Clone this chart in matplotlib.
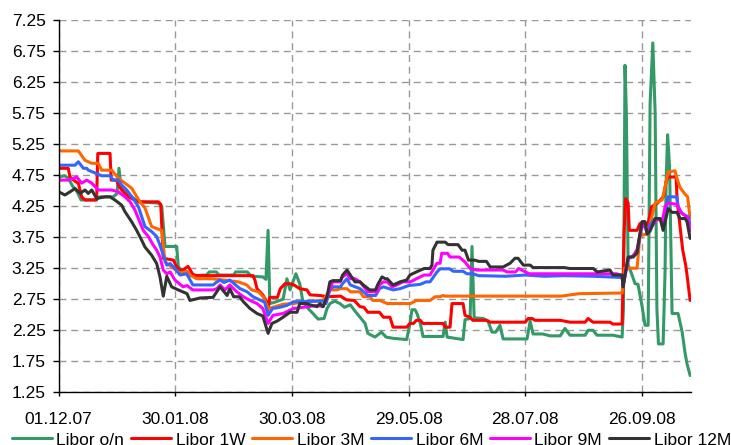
import matplotlib
matplotlib.use("Agg")
import matplotlib.pyplot as plt

plt.rcParams['font.family'] = ['Liberation Sans', 'DejaVu Sans']

# ---------------- data (days counted from 01.12.07) ----------------
tick_days = [0, 60, 120, 180, 240, 300]
tick_labels = ['01.12.07', '30.01.08', '30.03.08', '29.05.08', '28.07.08', '26.09.08']
y_ticks = [1.25, 1.75, 2.25, 2.75, 3.25, 3.75, 4.25, 4.75, 5.25, 5.75, 6.25, 6.75, 7.25]

series_names = ['Libor o/n', 'Libor 1W', 'Libor 3M', 'Libor 6M', 'Libor 9M', 'Libor 12M']
series_colors = ['#339966', '#FF0000', '#FF6600', '#3366FF', '#FF00FF', '#333333']

on_days = [0, 3, 5, 7, 9.5, 11.5, 19, 21, 28, 30, 31, 32, 35, 37.5, 41, 51.2, 53, 54.7, 60.7, 61.5,
           64, 68, 76, 77.5, 81, 82.5, 90, 91, 97, 99, 105, 106.6, 107.7, 108.6, 111, 115.4, 117.4, 119, 122, 124,
           125.5, 127.7, 130.8, 133.4, 136.5, 138, 139.5, 142, 144.7, 147, 150, 152.4, 155, 157.6, 159, 162.7, 166, 168.4, 172, 179,
           180.7, 181.7, 183.3, 184.3, 186, 187.4, 197.7, 198.8, 199.8, 208, 209, 211.6, 212.6, 213.7, 218.3, 220.8, 222.9, 224.8, 227, 228.6,
           240.9, 242.5, 244, 249, 252.7, 258, 260.4, 263, 270.8, 272.3, 274.8, 276.9, 285.1, 289.8, 290.5, 291.3, 292, 292.9, 294, 296.5,
           298, 300.1, 301.6, 303.2, 304.2, 305.6, 306.8, 307.7, 308.5, 310.9, 311.9, 312.4, 313.2, 314.2, 315.5, 318.6, 320.7, 322.2, 323.2, 324.8]
on_vals = [4.72, 4.74, 4.70, 4.58, 4.48, 4.35, 4.35, 4.40, 4.40, 4.45, 4.86, 4.55, 4.45, 4.40, 4.32, 4.30, 4.25, 3.60, 3.60, 3.28,
           3.18, 3.13, 3.14, 3.19, 3.19, 3.14, 3.14, 3.19, 3.19, 3.12, 3.11, 3.07, 3.86, 2.68, 2.70, 2.75, 3.08, 2.90, 3.16, 3.00,
           2.73, 2.62, 2.52, 2.43, 2.44, 2.60, 2.68, 2.72, 2.68, 2.62, 2.66, 2.56, 2.46, 2.36, 2.20, 2.14, 2.22, 2.14, 2.12, 2.10,
           2.36, 2.58, 2.58, 2.52, 2.36, 2.15, 2.15, 2.38, 2.14, 2.10, 2.42, 2.44, 3.60, 2.45, 2.44, 2.40, 2.22, 2.22, 2.33, 2.11,
           2.11, 2.40, 2.19, 2.19, 2.16, 2.16, 2.28, 2.17, 2.17, 2.25, 2.25, 2.17, 2.17, 2.14, 2.60, 6.52, 5.75, 3.30, 3.22, 3.00,
           2.99, 2.63, 2.33, 2.33, 5.90, 6.88, 5.75, 2.60, 2.03, 2.03, 3.20, 4.60, 5.40, 4.90, 2.52, 2.52, 2.22, 1.88, 1.71, 1.52]

w1_days = [0, 4.9, 5.8, 8.5, 10.1, 11.8, 13.5, 19.5, 20.1, 26.4, 27, 29.8, 30.7, 32.4, 35.8, 41, 51.2, 52.5, 53.8, 59,
           60.7, 62.4, 64, 66.5, 69, 71, 100, 101, 102, 105, 106.6, 107.7, 108.5, 112.5, 114, 116.4, 119, 121, 124, 127.7,
           129.3, 134.4, 138, 145, 148, 152, 155, 157, 159, 165, 167, 170.4, 172, 179, 180.7, 182.5, 184, 186, 187.4, 197.7,
           198.8, 201.3, 202.3, 208, 209, 211.6, 213, 220, 221.9, 240, 241.5, 243.5, 245, 258, 263, 270.8, 272.3, 274.8, 283.6, 285,
           289.8, 290.8, 291.6, 292.9, 293.5, 297.5, 299, 301, 303, 305, 308, 311, 312.5, 313.5, 317.6, 318.1, 319.6, 321, 322.5, 323.2,
           324.8]
w1_vals = [4.86, 4.86, 4.72, 4.65, 4.62, 4.40, 4.35, 4.35, 5.10, 5.10, 4.67, 4.67, 4.59, 4.51, 4.40, 4.32, 4.32, 4.28, 3.41, 3.38,
           3.27, 3.22, 3.22, 3.28, 3.15, 3.13, 3.13, 3.05, 2.92, 2.82, 2.73, 2.58, 2.78, 2.78, 2.92, 3.00, 3.00, 2.98, 2.92, 2.90,
           2.82, 2.81, 2.79, 2.80, 2.74, 2.73, 2.63, 2.62, 2.54, 2.54, 2.46, 2.46, 2.30, 2.30, 2.36, 2.36, 2.41, 2.41, 2.36, 2.36,
           2.30, 2.30, 2.68, 2.68, 2.49, 2.46, 2.41, 2.41, 2.38, 2.38, 2.44, 2.44, 2.41, 2.41, 2.38, 2.38, 2.44, 2.38, 2.38, 2.35,
           2.35, 3.80, 4.37, 4.30, 3.86, 3.86, 3.97, 4.00, 3.95, 4.24, 4.30, 4.40, 4.65, 4.72, 4.72, 4.35, 3.92, 3.54, 3.30, 3.14,
           2.73]

m3_days = [0, 10.1, 13.5, 17, 20.4, 22.1, 27.3, 30.7, 34.1, 37.5, 41.8, 44.4, 47.8, 53, 54.7, 62.4, 66, 68, 71, 79,
           92.4, 96.7, 99.3, 102.7, 105.2, 107.8, 110.2, 115.5, 120.7, 125.8, 136, 139.5, 143, 144.7, 148.3, 150, 155, 156.7, 160, 161.7,
           165.3, 169, 181, 184, 191, 193.6, 196.2, 197.5, 199, 258.7, 263, 268, 289.8, 291, 297.5, 299, 303, 304.5, 306.8, 310.4,
           311.5, 313.5, 317, 318, 319.6, 322, 323.5, 324.8]
m3_vals = [5.14, 5.14, 4.99, 4.94, 4.94, 4.83, 4.83, 4.70, 4.62, 4.54, 4.32, 4.22, 3.92, 3.86, 3.35, 3.17, 3.20, 3.13, 3.08, 3.08,
           3.03, 2.98, 2.90, 2.87, 2.79, 2.60, 2.62, 2.67, 2.68, 2.71, 2.73, 2.90, 2.90, 2.92, 2.92, 2.87, 2.87, 2.79, 2.79, 2.73,
           2.73, 2.68, 2.68, 2.73, 2.73, 2.79, 2.79, 2.81, 2.80, 2.80, 2.82, 2.84, 2.85, 3.25, 3.25, 3.78, 3.80, 4.00, 4.30, 4.35,
           4.50, 4.80, 4.82, 4.70, 4.55, 4.45, 4.40, 4.05]

m6_days = [0, 8.4, 10.1, 12.7, 14.4, 15.2, 22.1, 26.4, 28.1, 30.7, 32.4, 35, 38.4, 41, 42.7, 44.4, 47.8, 50.4, 52.1, 53.8,
           55.6, 57.3, 59.8, 62.4, 65.8, 69, 79.4, 81, 83, 85, 88, 91, 93.3, 96.9, 100, 104, 106, 107.7, 110, 113.8,
           117.4, 120.7, 136, 137.5, 139.5, 141, 145, 146, 148.3, 150, 155, 159, 163, 165, 167, 172, 175.6, 180, 186, 189,
           191, 194.6, 196.2, 201, 203, 208, 210, 213, 216, 230, 240, 250, 260, 275, 289.8, 290.3, 292.9, 295.5, 297.5, 299,
           300.6, 302.7, 304.2, 306.8, 309.4, 310.9, 313, 313.5, 318, 318.6, 320.7, 322.5, 323.8, 324.8]
m6_vals = [4.91, 4.91, 4.965, 4.86, 4.86, 4.83, 4.74, 4.74, 4.67, 4.67, 4.59, 4.51, 4.37, 4.24, 4.08, 3.92, 3.84, 3.76, 3.62, 3.46,
           3.30, 3.325, 3.245, 3.14, 3.16, 2.98, 2.98, 3.02, 3.06, 3.02, 3.06, 2.98, 2.92, 2.87, 2.79, 2.73, 2.70, 2.49, 2.60, 2.62,
           2.65, 2.71, 2.72, 2.68, 2.90, 2.95, 2.95, 3.00, 3.08, 2.98, 2.92, 2.81, 2.81, 2.92, 2.95, 2.90, 2.92, 2.97, 2.99, 3.03,
           3.03, 3.19, 3.24, 3.24, 3.20, 3.20, 3.16, 3.16, 3.13, 3.12, 3.14, 3.12, 3.13, 3.12, 3.10, 2.97, 3.40, 3.45, 3.50, 3.78,
           4.00, 3.82, 3.95, 4.05, 4.05, 3.95, 4.30, 4.40, 4.40, 4.24, 4.13, 4.10, 4.08, 3.95]

m9_days = [0, 4.9, 9.3, 11.8, 14.4, 17, 20.4, 27.3, 30.7, 34.1, 36.7, 39.2, 41, 43.5, 46.1, 48.7, 50.4, 52.1, 53.8, 55.6,
           57.3, 59.8, 62.4, 64, 66, 69, 79.4, 81.4, 83, 85.5, 88, 91.6, 95, 98.4, 102, 105, 107.7, 110.2, 115.4, 120.7,
           125.8, 132.9, 136, 139.5, 141, 144.7, 146, 148.3, 150, 152.4, 155, 159, 164, 165, 167, 169, 171.5, 174, 177, 181,
           184, 188, 191, 194.6, 196.2, 197, 200, 201.3, 206, 209, 211.6, 215, 228.6, 230.6, 235, 236.5, 242, 287, 289.8, 290.3,
           292.9, 295.5, 297.5, 299, 300.6, 302.7, 305, 308, 310.4, 312, 313.5, 318, 320, 322, 323.5, 324.8]
m9_vals = [4.67, 4.67, 4.72, 4.62, 4.67, 4.62, 4.51, 4.51, 4.48, 4.40, 4.32, 4.19, 4.05, 3.86, 3.76, 3.62, 3.54, 3.43, 3.22, 3.16,
           3.19, 3.06, 2.99, 2.95, 2.97, 2.90, 2.90, 2.92, 2.98, 2.90, 2.98, 2.87, 2.79, 2.73, 2.68, 2.60, 2.36, 2.49, 2.52, 2.60,
           2.62, 2.65, 2.63, 2.92, 3.03, 3.03, 3.11, 3.16, 3.08, 3.08, 3.03, 2.87, 2.87, 2.98, 3.03, 3.03, 2.95, 2.98, 3.03, 3.03,
           3.08, 3.14, 3.14, 3.33, 3.33, 3.49, 3.49, 3.43, 3.43, 3.35, 3.245, 3.22, 3.22, 3.19, 3.19, 3.245, 3.16, 3.16, 3.13, 2.95,
           3.40, 3.45, 3.55, 3.80, 3.98, 3.85, 3.92, 4.05, 4.00, 4.25, 4.30, 4.28, 4.15, 4.10, 4.05, 3.85]

m12_days = [0, 3.2, 5.8, 8.4, 11, 13.5, 15.2, 17, 19.5, 23.8, 26.4, 29, 32.4, 34.1, 37.5, 40.1, 42.7, 44.4, 47.8, 50.4,
            52.1, 53.8, 55.6, 58.1, 61.5, 66, 67.5, 72.7, 79.4, 83, 86.6, 88, 90, 93, 95, 98.4, 102, 105, 107.7, 109.7,
            112.5, 115.4, 119, 122.6, 124, 127.7, 129.3, 132.9, 134.4, 136, 138, 139.5, 141, 145, 146, 148.3, 150, 152.4, 155, 156.7,
            160, 163, 164, 166.3, 168, 169, 172, 175.6, 179, 180.7, 184, 188, 191, 192, 192.5, 194.6, 198.8, 200.3, 205.4, 207.5,
            209, 210.8, 214, 216, 220, 222, 228.6, 232.2, 234.7, 236.3, 239, 242.5, 244, 260, 263, 275, 276.9, 283.6, 285.1, 289.8,
            290.3, 292.9, 295.5, 297.5, 299, 300.1, 301.6, 302.7, 304.2, 306.8, 309.4, 310.9, 313.5, 315.5, 318, 319.6, 322.2, 323.2, 324.8]
m12_vals = [4.48, 4.43, 4.48, 4.535, 4.455, 4.51, 4.455, 4.51, 4.374, 4.40, 4.40, 4.347, 4.266, 4.16, 4.00, 3.86, 3.70, 3.59, 3.46, 3.325,
            3.11, 2.80, 3.12, 2.95, 2.90, 2.84, 2.73, 2.77, 2.78, 2.95, 2.81, 2.92, 2.79, 2.79, 2.71, 2.60, 2.52, 2.48, 2.20, 2.36,
            2.40, 2.46, 2.54, 2.54, 2.68, 2.68, 2.66, 2.63, 2.68, 2.63, 2.79, 3.03, 3.05, 3.05, 3.14, 3.22, 3.14, 3.03, 3.03, 2.98,
            2.90, 2.90, 2.98, 3.11, 3.08, 3.08, 2.98, 3.03, 3.06, 3.14, 3.19, 3.245, 3.245, 3.30, 3.54, 3.67, 3.67, 3.63, 3.63, 3.54,
            3.54, 3.38, 3.38, 3.36, 3.36, 3.27, 3.27, 3.33, 3.41, 3.41, 3.30, 3.30, 3.26, 3.26, 3.245, 3.245, 3.19, 3.22, 3.14, 3.14,
            2.95, 3.43, 3.43, 3.50, 3.81, 4.00, 4.00, 3.80, 3.85, 4.05, 4.05, 3.86, 4.21, 4.15, 4.15, 4.05, 4.05, 4.00, 3.73]

series_days = [on_days, w1_days, m3_days, m6_days, m9_days, m12_days]
series_vals = [on_vals, w1_vals, m3_vals, m6_vals, m9_vals, m12_vals]

# ---------------- figure ----------------
W, H = 731, 445
fig = plt.figure(figsize=(W / 100, H / 100), dpi=100)
ax = fig.add_axes([58.7 / W, 1 - 392.3 / H, (691.5 - 58.7) / W, (392.3 - 20) / H])

handles = []
for d, v, name, col in zip(series_days, series_vals, series_names, series_colors):
    ln, = ax.plot(d, v, color=col, lw=2.2, label=name,
                  solid_joinstyle='round', solid_capstyle='round')
    handles.append(ln)

ax.set_xlim(0, 325.5)
ax.set_ylim(1.25, 7.25)
ax.set_yticks(y_ticks)
ax.set_yticklabels([f'{t:.2f}' for t in y_ticks])
ax.set_xticks(tick_days)
ax.set_xticklabels(tick_labels)

ax.set_axisbelow(True)
ax.grid(True, color='#999999', linestyle=(0, (5, 3.5)), linewidth=1.0)

for s in ['top', 'right']:
    ax.spines[s].set_visible(False)
for s in ['left', 'bottom']:
    ax.spines[s].set_color('black')
    ax.spines[s].set_linewidth(1.0)

ax.tick_params(axis='x', direction='out', length=3, width=1, pad=11, labelsize=12.5, colors='black')
ax.tick_params(axis='y', direction='out', length=4.5, width=1, pad=5, labelsize=12.5, colors='black')

fig.legend(handles, series_names, loc='center left', bbox_to_anchor=(12 / W, 1 - 440 / H),
           ncol=6, frameon=False, handlelength=2.3, handletextpad=0.26, columnspacing=0.4,
           borderpad=0, borderaxespad=0, fontsize=12.5)

fig.savefig('out.png', dpi=100)
